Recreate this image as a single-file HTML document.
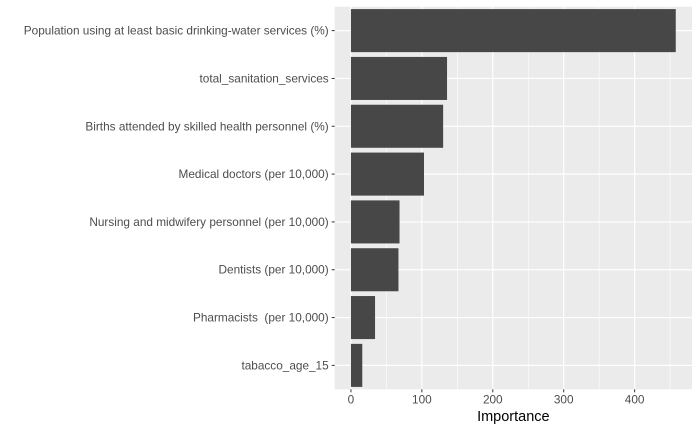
<!DOCTYPE html>
<html><head><meta charset="utf-8"><style>
body{margin:0;background:#fff;}
svg{font-family:"Liberation Sans",Arial,sans-serif;}
text{white-space:pre;}
</style></head><body>
<svg id="chart" width="700" height="432"></svg>
<script>
const categories=["Population using at least basic drinking-water services (%)","total_sanitation_services","Births attended by skilled health personnel (%)","Medical doctors (per 10,000)","Nursing and midwifery personnel (per 10,000)","Dentists (per 10,000)","Pharmacists  (per 10,000)","tabacco_age_15"];
const importance=[458,135.5,130,103,68.5,67,34,16];
const xTicks=[0,100,200,300,400];
const xMinor=[50,150,250,350,450];

const NS="http://www.w3.org/2000/svg";
const svg=document.getElementById('chart');
const L=334.7,R=692,T=6.7,B=389.3;
const maxV=Math.max(...importance);
const dMin=-0.05*maxV,dMax=1.05*maxV;
const x=v=>L+(v-dMin)/(dMax-dMin)*(R-L);
const step=(B-T)/categories.length;
const y=i=>T+step*(i+0.5);
function mk(t,a,p){const e=document.createElementNS(NS,t);for(const k in a)e.setAttribute(k,a[k]);(p||svg).appendChild(e);return e;}
const panel=mk('rect',{x:L,y:T,width:R-L,height:B-T,fill:'#ebebeb'});


xMinor.forEach(v=>{if(x(v)<R){const l=mk('line',{x1:x(v),x2:x(v),y1:T,y2:B,stroke:'#fff','stroke-width':0.6});

}});
xTicks.forEach(v=>{const l=mk('line',{x1:x(v),x2:x(v),y1:T,y2:B,stroke:'#fff','stroke-width':1.2});

});
categories.forEach((c,i)=>{const l=mk('line',{x1:L,x2:R,y1:y(i),y2:y(i),stroke:'#fff','stroke-width':1.2});

});
categories.forEach((c,i)=>{
 const h=step*0.9;
 const r=mk('rect',{x:x(0),y:y(i)-h/2,width:x(importance[i])-x(0),height:h,fill:'#474747'});
 
 
 const tk=mk('line',{x1:L-3,x2:L,y1:y(i),y2:y(i),stroke:'#333','stroke-width':1});
 
 
 const t=mk('text',{x:L-6,y:y(i)+4,'text-anchor':'end','font-size':11.8,fill:'#4d4d4d'});
 t.textContent=c;
 
 
});
xTicks.forEach(v=>{
 const tk=mk('line',{x1:x(v),x2:x(v),y1:B,y2:B+3,stroke:'#333','stroke-width':1});
 
 
 const t=mk('text',{x:x(v),y:B+14,'text-anchor':'middle','font-size':11.8,fill:'#4d4d4d'});
 t.textContent=v;
 
 
});
const at=mk('text',{x:(L+R)/2,y:421,'text-anchor':'middle','font-size':14.5,fill:'#000'});
at.textContent='Importance';


</script>
</body></html>
